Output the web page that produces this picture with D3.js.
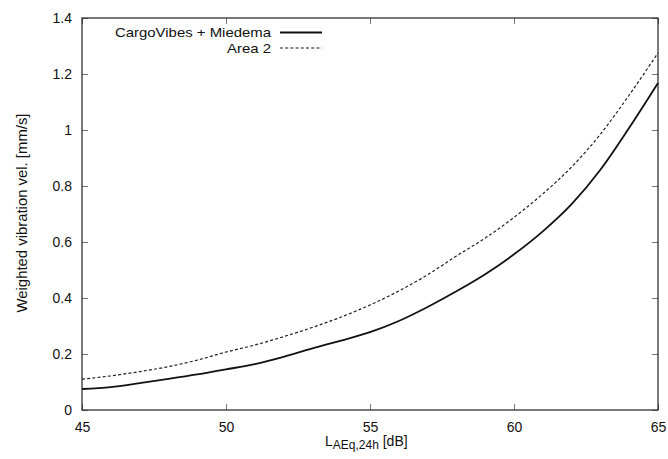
<!DOCTYPE html>
<html><head><meta charset="utf-8">
<script src="https://cdn.jsdelivr.net/npm/d3@7"></script>
<style>
body{margin:0;background:#fff;}
svg{display:block;font-family:"Liberation Sans",Arial,sans-serif;}
</style></head>
<body>
<svg id="c" width="668" height="459"></svg>
<script>
const levels = [45,46,47,48,49,50,51,52,53,54,55,56,57,58,59,60,61,62,63,64,65];
const cargoVibes = [0.075,0.082,0.096,0.111,0.127,0.145,0.164,0.190,0.220,0.248,0.278,0.318,0.368,0.424,0.485,0.556,0.638,0.735,0.858,1.008,1.168];
const area2 = [0.110,0.122,0.137,0.155,0.178,0.207,0.232,0.262,0.295,0.332,0.375,0.425,0.483,0.550,0.614,0.688,0.772,0.868,0.985,1.125,1.275];
const xTicks = [45,50,55,60,65];
const yTicks = [0,0.2,0.4,0.6,0.8,1,1.2,1.4];
const seriesNames = ["CargoVibes + Miedema","Area 2"];

const svg = d3.select("#c");
const m = {l:82, r:658, t:18, b:410};
const x = d3.scaleLinear().domain([45,65]).range([m.l,m.r]);
const y = d3.scaleLinear().domain([0,1.4]).range([m.b,m.t]);

const tickCol = "#777";
const g = svg.append("g");
g.append("g").attr("transform",`translate(0,${m.b})`)
  .call(d3.axisBottom(x).tickValues(xTicks).tickSize(-6).tickFormat(d3.format("d")).tickPadding(12))
  .call(a=>{a.select(".domain").remove();a.selectAll("line").attr("stroke",tickCol);
    a.selectAll("text").attr("font-size",14).attr("fill","#111");});
g.append("g").attr("transform",`translate(0,${m.t})`)
  .call(d3.axisTop(x).tickValues(xTicks).tickSize(-6).tickFormat(""))
  .call(a=>{a.select(".domain").remove();a.selectAll("line").attr("stroke",tickCol);});
g.append("g").attr("transform",`translate(${m.l},0)`)
  .call(d3.axisLeft(y).tickValues(yTicks).tickSize(-6).tickFormat(d=>d3.format("")(+d.toFixed(1))).tickPadding(10))
  .call(a=>{a.select(".domain").remove();a.selectAll("line").attr("stroke",tickCol);
    a.selectAll("text").attr("font-size",14).attr("fill","#111");});
g.append("g").attr("transform",`translate(${m.r},0)`)
  .call(d3.axisRight(y).tickValues(yTicks).tickSize(-6).tickFormat(""))
  .call(a=>{a.select(".domain").remove();a.selectAll("line").attr("stroke",tickCol);});

svg.append("rect").attr("x",m.l).attr("y",m.t).attr("width",m.r-m.l).attr("height",m.b-m.t)
  .attr("fill","none").attr("stroke","#222").attr("stroke-width",1.2);

const line = d3.line().x((d,i)=>x(levels[i])).y(d=>y(d)).curve(d3.curveMonotoneX);
svg.append("path").datum(cargoVibes).attr("d",line).attr("fill","none")
  .attr("stroke","#111").attr("stroke-width",1.8);
svg.append("path").datum(area2).attr("d",line).attr("fill","none")
  .attr("stroke","#222").attr("stroke-width",1.2).attr("stroke-dasharray","3,2.2");

const lg = svg.append("g");
const styles = [{w:1.8,dash:null,len:156},{w:1.2,dash:"3,2.2",len:44}];
seriesNames.forEach((n,i)=>{
  const yy = 32.5 + i*15.5;
  lg.append("text").attr("x",271).attr("y",yy).attr("dy","0.35em").attr("text-anchor","end")
    .attr("font-size",13.5).attr("fill","#111")
    .attr("textLength",styles[i].len).attr("lengthAdjust","spacingAndGlyphs").text(n);
  lg.append("line").attr("x1",280).attr("x2",322).attr("y1",yy).attr("y2",yy)
    .attr("stroke","#111").attr("stroke-width",styles[i].w).attr("stroke-dasharray",styles[i].dash);
});

const xl = svg.append("text").attr("x",325).attr("y",446).attr("text-anchor","start")
  .attr("font-size",14).attr("fill","#111");
xl.append("tspan").text("L");
xl.append("tspan").attr("font-size",12).attr("dy",3).text("AEq,24h");
xl.append("tspan").attr("dy",-3).text(" [dB]");

svg.append("text").attr("transform","translate(27,213) rotate(-90)").attr("text-anchor","middle")
  .attr("font-size",14).attr("fill","#111")
  .attr("textLength",199).attr("lengthAdjust","spacingAndGlyphs")
  .text("Weighted vibration vel. [mm/s]");
</script>
</body></html>
